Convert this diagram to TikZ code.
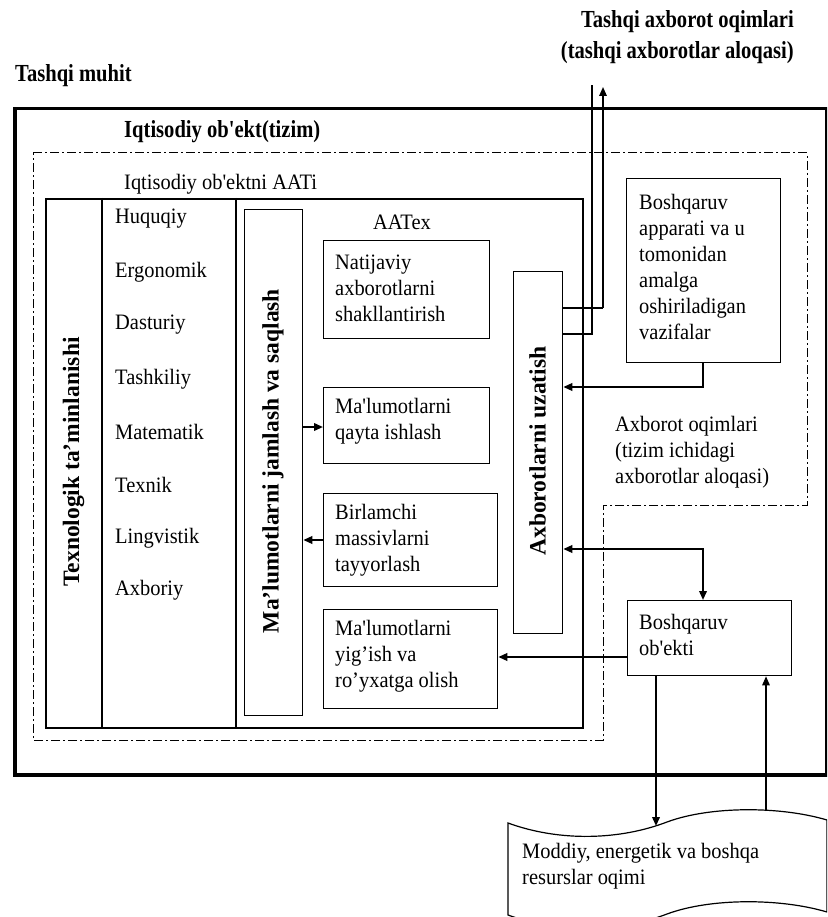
\documentclass[tikz,border=0pt]{standalone}
\usepackage{fontspec}
\setmainfont{Liberation Serif}
\newfontfamily\titlefont[FakeStretch=0.84]{Liberation Serif}
\newfontfamily\bodyfont[FakeStretch=0.93]{Liberation Serif}
\usetikzlibrary{arrows.meta}
\begin{document}
\begin{tikzpicture}[x=1pt,y=-1pt,
  txt/.style={font=\bodyfont\fontsize{22}{26}\selectfont, inner sep=0pt, align=left},
  ttl/.style={font=\titlefont\bfseries\fontsize{24.5}{31}\selectfont, inner sep=0pt},
  rot/.style={font=\bfseries\fontsize{23.5}{28}\selectfont, rotate=90, inner sep=0pt},
  rbox/.style={draw, line width=1.3pt, inner sep=0pt, anchor=north west},
  tip/.style={-{Triangle[length=9pt,width=7.5pt]}},
  conn/.style={line width=2pt, tip},
  dashdot/.style={line width=1pt, dash pattern=on 9pt off 3pt on 2pt off 3pt}]
\useasboundingbox (0,0) rectangle (827,917);
\clip (0,0) rectangle (827,917);

% outer environment box
\node[rbox, line width=3.5pt, minimum width=812pt, minimum height=666pt] (outer) at (13,107) {};
% economic object (dash-dot)
\draw[dashdot] (33,153) -- (807,153) -- (807,505) -- (603,505) -- (603,740) -- (33,740) -- cycle;
% AATi box
\node[rbox, line width=2pt, minimum width=537pt, minimum height=529pt] (aati) at (45,198) {};
\coordinate (d1) at (102,0);
\coordinate (d2) at (236,0);
\draw[line width=1.3pt] (aati.north -| d1) -- (aati.south -| d1);
\draw[line width=1.3pt] (aati.north -| d2) -- (aati.south -| d2);

% boxes
\node[rbox, minimum width=58pt, minimum height=506pt] (col) at (244,209) {};
\node[rbox, minimum width=166pt, minimum height=98pt] (nat) at (323,240) {};
\node[rbox, minimum width=166pt, minimum height=76pt] (qay) at (323,387) {};
\node[rbox, minimum width=174pt, minimum height=93pt] (bir) at (323,493) {};
\node[rbox, minimum width=174pt, minimum height=99pt] (yig) at (323,609) {};
\node[rbox, minimum width=49pt, minimum height=362pt] (uza) at (513,271) {};
\node[rbox, minimum width=154pt, minimum height=184pt] (app) at (626,178) {};
\node[rbox, minimum width=164pt, minimum height=75pt] (obj) at (627,600) {};

% tape shape
\draw[line width=1.2pt] (508,823) .. controls (560,842) and (620,840) .. (667,822)
  .. controls (710,806) and (780,806) .. (827,820) -- (827,912)
  .. controls (780,898) and (710,898) .. (667,914)
  .. controls (620,932) and (560,934) .. (508,915) -- cycle;
\coordinate (tapeA) at (656,826);
\coordinate (tapeB) at (766,811);

% titles
\node[ttl, anchor=east] (tao1) at (794,22) {Tashqi axborot oqimlari};
\node[ttl, anchor=east] (tao2) at (794,53) {(tashqi axborotlar aloqasi)};
\node[ttl, anchor=west] (muhit) at (15,76) {Tashqi muhit};
\node[ttl, anchor=west] (iqt) at (124,132) {Iqtisodiy ob'ekt(tizim)};
\node[txt, anchor=west] (aatiT) at (124,184) {Iqtisodiy ob'ektni AATi};
\node[txt] (aatex) at (402,222) {AATex};

% left list
\node[txt, anchor=west] (l1) at (115,219) {Huquqiy};
\node[txt, anchor=west] (l2) at (115,272) {Ergonomik};
\node[txt, anchor=west] (l3) at (115,325) {Dasturiy};
\node[txt, anchor=west] (l4) at (115,379) {Tashkiliy};
\node[txt, anchor=west] (l5) at (115,432) {Matematik};
\node[txt, anchor=west] (l6) at (115,485) {Texnik};
\node[txt, anchor=west] (l7) at (115,538) {Lingvistik};
\node[txt, anchor=west] (l8) at (115,590) {Axboriy};

% rotated
\node[rot] (texT) at (73.5,462) {Texnologik ta'minlanishi};
\node[rot] (colT) at (273,461) {Ma'lumotlarni jamlash va saqlash};
\node[rot] (uzaT) at (537.5,451) {Axborotlarni uzatish};

% box texts
\node[txt, anchor=west] (natT) at (335,288) {Natijaviy\\axborotlarni\\shakllantirish};
\node[txt, anchor=west] (qayT) at (335,421.5) {Ma'lumotlarni\\qayta ishlash};
\node[txt, anchor=west] (birT) at (335,540) {Birlamchi\\massivlarni\\tayyorlash};
\node[txt, anchor=west] (yigT) at (335,656) {Ma'lumotlarni\\yig’ish va\\ro’yxatga olish};
\node[txt, anchor=west] (appT) at (639,266.5) {Boshqaruv\\apparati va u\\tomonidan\\amalga\\oshiriladigan\\vazifalar};
\node[txt, anchor=west] (objT) at (639,635) {Boshqaruv\\ob'ekti};
\node[txt, anchor=west] (flowT) at (615,452) {Axborot oqimlari\\(tizim ichidagi\\axborotlar aloqasi)};
\node[txt, anchor=west] (tapeT) at (522,866) {Moddiy, energetik va boshqa\\resurslar oqimi};

% connectors
\coordinate (y427) at (0,427);
\coordinate (y540) at (0,540);
\coordinate (y387) at (0,387);
\coordinate (y549) at (0,549);
\coordinate (y657) at (0,657);
\coordinate (x703) at (703,0);
\coordinate (x656) at (656,0);
\coordinate (y308) at (0,308);
\coordinate (y334) at (0,334);
\coordinate (u1) at (603,87);
\coordinate (u2) at (592,85);

\draw[conn] (col.east |- y427) -- (qay.west |- y427);
\draw[conn] (bir.west |- y540) -- (col.east |- y540);
\draw[conn] (app.south -| x703) -- (x703 |- y387) -- (uza.east |- y387);
\draw[line width=2pt, {Triangle[length=9pt,width=7.5pt]}-{Triangle[length=9pt,width=7.5pt]}]
  (uza.east |- y549) -- (x703 |- y549) -- (obj.north -| x703);
\draw[conn] (obj.west |- y657) -- (yig.east |- y657);
\draw[conn] (obj.south -| x656) -- (tapeA);
\draw[line width=1.3pt, tip] (tapeB) -- (obj.south -| tapeB);

\draw[line width=2.4pt] (uza.east |- y308) -- (u1 |- y308);
\draw[line width=1.6pt, tip] (u1 |- y308) -- (u1);
\draw[line width=1.4pt] (uza.east |- y334) -- (u2 |- y334) -- (u2);
\end{tikzpicture}
\end{document}
